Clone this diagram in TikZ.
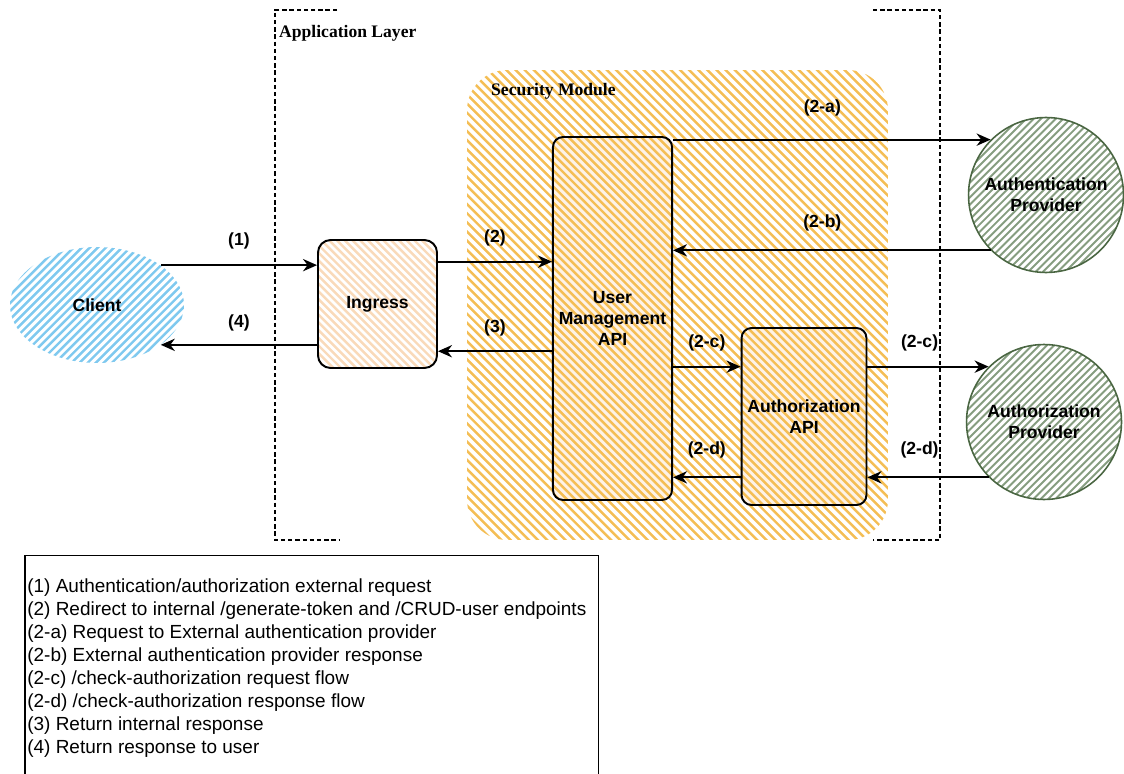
\documentclass[tikz,border=0pt]{standalone}
\usepackage{fontspec}
\setmainfont{Liberation Sans}
\newfontfamily\serifbold{Liberation Serif}
\usepackage{xcolor}
\usepackage{tikz}
\usetikzlibrary{arrows.meta,shapes.geometric}

\definecolor{modorange}{HTML}{F4BE55}
\definecolor{peach}{HTML}{F9DABA}
\definecolor{skyblue}{HTML}{7FC9EF}
\definecolor{sage}{HTML}{869D80}
\definecolor{sageline}{HTML}{4A6642}

\begin{document}
\begin{tikzpicture}[
    x=0.02cm, y=-0.02cm,
    hatchdown/.style n args={3}{
        path picture={
            \foreach \k in {-90,...,90}
                \draw[#1, line width=#3]
                    ([xshift=\k*#2]path picture bounding box.center)
                    ++(-10cm,10cm) -- ++(20cm,-20cm);
        }
    },
    hatchup/.style n args={3}{
        path picture={
            \foreach \k in {-90,...,90}
                \draw[#1, line width=#3]
                    ([xshift=\k*#2]path picture bounding box.center)
                    ++(-10cm,-10cm) -- ++(20cm,20cm);
        }
    },
    module/.style={
        rectangle,
        rounded corners=0.8cm,
        minimum width=8.42cm,
        minimum height=9.4cm,
        hatchdown={modorange}{5.2pt}{1.4pt}
    },
    api/.style={
        rectangle,
        rounded corners=0.2cm,
        draw,
        line width=1.1pt,
        fill=peach!35,
        align=center,
        font=\bfseries,
        hatchdown={modorange}{4.6pt}{1.4pt}
    },
    provider/.style={
        circle,
        draw=sageline,
        line width=0.9pt,
        minimum size=3.1cm,
        align=center,
        font=\bfseries,
        hatchup={sage}{4.2pt}{1.1pt}
    },
    frame/.style={
        dashed,
        dash pattern=on 2.5pt off 1.6pt,
        line width=0.6pt
    },
    flow/.style={
        -{Stealth[length=8pt,width=7pt]},
        line width=1.1pt,
        black
    },
    tag/.style={
        font=\bfseries,
        text=black
    }
]
    \useasboundingbox (0,0) rectangle (1124,773);

    \node[module] (secmod) at (677.5,305) {};
    \node[anchor=west, font=\serifbold\bfseries] (seclabel) at (485,91) {Security Module};

    \draw[frame] (337,10) -- (275,10) -- (275,540) -- (340,540);
    \draw[frame] (873,10) -- (940,10) -- (940,540) -- (873,540);
    \node[anchor=west, font=\serifbold\bfseries] (applabel) at (273,33) {Application Layer};

    \node[ellipse, minimum width=3.48cm, minimum height=2.32cm, font=\bfseries,
        hatchup={skyblue}{4.6pt}{1.4pt}] (client) at (97,305) {Client};
    \node[rectangle, rounded corners=0.25cm, draw, line width=1.1pt,
        minimum width=2.38cm, minimum height=2.56cm, font=\bfseries,
        hatchdown={peach}{4.4pt}{1.4pt}] (ingress) at (377.5,304) {Ingress};
    \node[api, minimum width=2.3cm, minimum height=7.26cm] (usermgmt) at (612.5,318.5) {User\\Management\\API};
    \node[api, minimum width=2.36cm, minimum height=3.54cm] (authzapi) at (804,416.5) {Authorization\\API};
    \node[provider] (authnprov) at (1046,195) {Authentication\\Provider};
    \node[provider] (authzprov) at (1044,422) {Authorization\\Provider};

    \draw[flow] (client.32) -- (client.32 -| ingress.west) node[tag, midway, above=5pt] {(1)};
    \draw[flow] (client.-32 -| ingress.west) -- (client.-32) node[tag, midway, above=4pt] {(4)};
    \draw[flow] (ingress.35) -- (ingress.35 -| usermgmt.west) node[tag, midway, above=5pt] {(2)};
    \draw[flow] (ingress.-38 -| usermgmt.west) -- (ingress.-38) node[tag, midway, above=4.5pt] {(3)};
    \draw[flow] (authnprov.135 -| usermgmt.east) -- (authnprov.135) node[tag, pos=0.47, above=9.5pt] {(2-a)};
    \draw[flow] (authnprov.225) -- (authnprov.225 -| usermgmt.east) node[tag, pos=0.53, above=7pt] {(2-b)};
    \draw[flow] (authzprov.135 -| usermgmt.east) -- (authzprov.135 -| authzapi.west) node[tag, midway, above=5pt] {(2-c)};
    \draw[flow] (authzprov.135 -| authzapi.east) -- (authzprov.135) node[tag, pos=0.43, above=5pt] {(2-c)};
    \draw[flow] (authzprov.225) -- (authzprov.225 -| authzapi.east) node[tag, pos=0.57, above=7pt] {(2-d)};
    \draw[flow] (authzprov.225 -| authzapi.west) -- (authzprov.225 -| usermgmt.east) node[tag, midway, above=7pt] {(2-d)};

    \node[rectangle, draw, line width=0.8pt, anchor=north west,
        minimum width=11.46cm, minimum height=5.4cm] (notebox) at (25,555) {};
    \draw[line width=1.4pt] (notebox.north west) -- (notebox.south west);
    \node[anchor=north west, inner sep=0pt, align=left,
        font=\fontsize{10.8pt}{13.1pt}\selectfont] (notes) at (27,578) {%
        (1) Authentication/authorization external request\\
        (2) Redirect to internal /generate-token and /CRUD-user endpoints\\
        (2-a) Request to External authentication provider\\
        (2-b) External authentication provider response\\
        (2-c) /check-authorization request flow\\
        (2-d) /check-authorization response flow\\
        (3) Return internal response\\
        (4) Return response to user};
\end{tikzpicture}
\end{document}
